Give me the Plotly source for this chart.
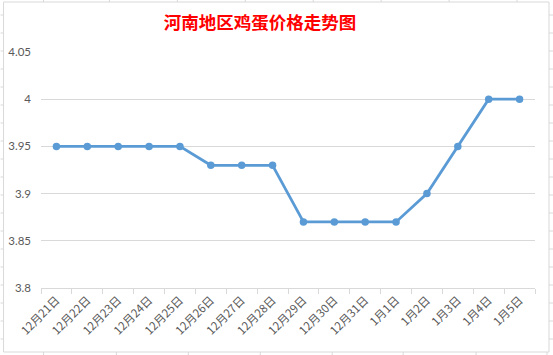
import plotly.graph_objects as go

categories = ["12月21日", "12月22日", "12月23日", "12月24日", "12月25日", "12月26日", "12月27日",
              "12月28日", "12月29日", "12月30日", "12月31日", "1月1日", "1月2日", "1月3日", "1月4日", "1月5日"]
prices = [3.95, 3.95, 3.95, 3.95, 3.95, 3.93, 3.93, 3.93, 3.87, 3.87, 3.87, 3.87, 3.9, 3.95, 4.0, 4.0]
y_ticks = [3.8, 3.85, 3.9, 3.95, 4.0, 4.05]
y_tick_text = ["3.8", "3.85", "3.9", "3.95", "4", "4.05"]

W, H = 553, 355
L, R, T, B = 40.5, 18, 52, 67
PW, PH = W - L - R, H - T - B


def px(x):
    return (x - L) / PW


def py(y):
    return (H - B - y) / PH


fig = go.Figure(go.Scatter(
    x=categories, y=prices, mode="lines+markers",
    line=dict(color="#5B9BD5", width=2.8),
    marker=dict(color="#5B9BD5", size=7.5),
    cliponaxis=False,
))

fig.update_layout(
    width=W, height=H,
    margin=dict(l=L, r=R, t=T, b=B),
    paper_bgcolor="white", plot_bgcolor="white",
    showlegend=False,
    title=dict(text="<b>河南地区鸡蛋价格走势图</b>", x=260 / W, xref="container", xanchor="center",
               y=1 - 23 / H, yref="container", yanchor="middle",
               font=dict(family="Noto Sans CJK SC", size=17.5, color="#FF0000")),
    font=dict(family="Noto Sans CJK SC, Lato", size=11, color="#595959"),
)
fig.update_xaxes(
    type="category", tickangle=-45, showgrid=False, automargin=False,
    showline=True, linecolor="#D9D9D9", linewidth=1,
    ticks="outside", ticklen=5, tickcolor="#D9D9D9", tickson="boundaries",
    tickfont=dict(size=11.5, color="#595959"),
    range=[-0.5, len(categories) - 0.5],
)
fig.update_yaxes(
    range=[3.8, 4.05], tickvals=y_ticks, ticktext=y_tick_text, automargin=False,
    showgrid=True, gridcolor="#D9D9D9", gridwidth=1,
    zeroline=False, showline=False,
    tickfont=dict(family="Lato", size=11.5, color="#595959"),
    ticks="", ticklabelstandoff=9,
)

grey = dict(color="#D9D9D9", width=1)
# chart border
fig.add_shape(type="rect", xref="paper", yref="paper", x0=px(3), x1=px(549), y0=py(352), y1=py(2),
              line=grey, fillcolor="rgba(0,0,0,0)", layer="below")
# spreadsheet cell lines around the chart
for x in [43, 109, 177, 245, 313, 381, 449, 517]:
    fig.add_shape(type="line", xref="paper", yref="paper", x0=px(x), x1=px(x), y0=py(0), y1=py(2), line=grey)
for x in [43, 116, 188, 260, 332, 403, 476, 547]:
    fig.add_shape(type="line", xref="paper", yref="paper", x0=px(x), x1=px(x), y0=py(352), y1=py(355), line=grey)
for y in range(15, 352, 18):
    fig.add_shape(type="line", xref="paper", yref="paper", x0=px(0), x1=px(3), y0=py(y), y1=py(y), line=grey)
    fig.add_shape(type="line", xref="paper", yref="paper", x0=px(549), x1=px(553), y0=py(y), y1=py(y), line=grey)

fig.write_html("out.html")
